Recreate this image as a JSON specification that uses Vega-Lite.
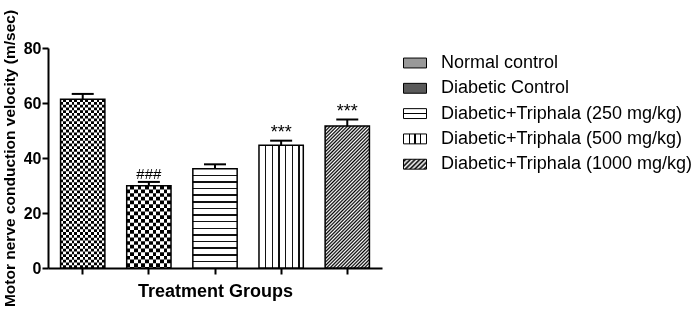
{
  "$schema": "https://vega.github.io/schema/vega-lite/v6.json",
  "width": 334,
  "height": 220,
  "autosize": {"type": "none"},
  "padding": {"left": 48, "top": 48, "right": 310, "bottom": 47},
  "background": "white",
  "config": {"view": {"stroke": null}, "font": "Liberation Sans"},
  "data": {"values": [
    {"group": "Normal control", "id": "nc", "value": 61.4, "upper": 63.3, "sig": ""},
    {"group": "Diabetic Control", "id": "dc", "value": 29.9, "upper": 31.3, "sig": "###"},
    {"group": "Diabetic+Triphala (250 mg/kg)", "id": "t250", "value": 36.1, "upper": 37.7, "sig": ""},
    {"group": "Diabetic+Triphala (500 mg/kg)", "id": "t500", "value": 44.6, "upper": 46.3, "sig": "***"},
    {"group": "Diabetic+Triphala (1000 mg/kg)", "id": "t1000", "value": 51.6, "upper": 54.0, "sig": "***"}
  ]},
  "encoding": {
    "x": {"field": "group", "type": "nominal", "sort": null,
      "scale": {"paddingInner": 0.33, "paddingOuter": 0.19},
      "axis": {"title": "Treatment Groups", "labels": false, "domainColor": "#000", "domainWidth": 2, "tickColor": "#000", "tickWidth": 2, "tickSize": 6, "titleFont": "Liberation Sans", "titleFontSize": 18, "titleFontWeight": "bold", "titleColor": "#000", "titlePadding": 7}},
    "y": {"field": "value", "type": "quantitative",
      "scale": {"domain": [0, 80], "nice": false},
      "axis": {"title": "Motor nerve conduction velocity (m/sec)", "values": [0, 20, 40, 60, 80], "grid": false, "domainColor": "#000", "domainWidth": 2, "tickColor": "#000", "tickWidth": 2, "tickSize": 6, "labelFont": "Liberation Sans", "labelFontSize": 16, "labelFontWeight": "bold", "labelColor": "#000", "labelPadding": 1, "titleFont": "Liberation Sans", "titleFontSize": 15.5, "titleFontWeight": "bold", "titleColor": "#000", "titlePadding": 6}}
  },
  "layer": [
    {
      "mark": {"type": "bar", "strokeWidth": 0},
      "encoding": {
        "fill": {
          "condition": [
            {"test": "datum.id === 't250'", "value": {"gradient": "linear", "x1": 0, "y1": 0, "x2": 0, "y2": 1, "stops": [
              {"offset": 0, "color": "#fff"},
              {"offset": 0.0592, "color": "#fff"}, {"offset": 0.0592, "color": "#111"}, {"offset": 0.0742, "color": "#111"}, {"offset": 0.0742, "color": "#fff"},
              {"offset": 0.1258, "color": "#fff"}, {"offset": 0.1258, "color": "#111"}, {"offset": 0.1408, "color": "#111"}, {"offset": 0.1408, "color": "#fff"},
              {"offset": 0.1925, "color": "#fff"}, {"offset": 0.1925, "color": "#111"}, {"offset": 0.2075, "color": "#111"}, {"offset": 0.2075, "color": "#fff"},
              {"offset": 0.2592, "color": "#fff"}, {"offset": 0.2592, "color": "#111"}, {"offset": 0.2742, "color": "#111"}, {"offset": 0.2742, "color": "#fff"},
              {"offset": 0.3258, "color": "#fff"}, {"offset": 0.3258, "color": "#111"}, {"offset": 0.3408, "color": "#111"}, {"offset": 0.3408, "color": "#fff"},
              {"offset": 0.3925, "color": "#fff"}, {"offset": 0.3925, "color": "#111"}, {"offset": 0.4075, "color": "#111"}, {"offset": 0.4075, "color": "#fff"},
              {"offset": 0.4592, "color": "#fff"}, {"offset": 0.4592, "color": "#111"}, {"offset": 0.4742, "color": "#111"}, {"offset": 0.4742, "color": "#fff"},
              {"offset": 0.5258, "color": "#fff"}, {"offset": 0.5258, "color": "#111"}, {"offset": 0.5408, "color": "#111"}, {"offset": 0.5408, "color": "#fff"},
              {"offset": 0.5925, "color": "#fff"}, {"offset": 0.5925, "color": "#111"}, {"offset": 0.6075, "color": "#111"}, {"offset": 0.6075, "color": "#fff"},
              {"offset": 0.6592, "color": "#fff"}, {"offset": 0.6592, "color": "#111"}, {"offset": 0.6742, "color": "#111"}, {"offset": 0.6742, "color": "#fff"},
              {"offset": 0.7258, "color": "#fff"}, {"offset": 0.7258, "color": "#111"}, {"offset": 0.7408, "color": "#111"}, {"offset": 0.7408, "color": "#fff"},
              {"offset": 0.7925, "color": "#fff"}, {"offset": 0.7925, "color": "#111"}, {"offset": 0.8075, "color": "#111"}, {"offset": 0.8075, "color": "#fff"},
              {"offset": 0.8592, "color": "#fff"}, {"offset": 0.8592, "color": "#111"}, {"offset": 0.8742, "color": "#111"}, {"offset": 0.8742, "color": "#fff"},
              {"offset": 0.9258, "color": "#fff"}, {"offset": 0.9258, "color": "#111"}, {"offset": 0.9408, "color": "#111"}, {"offset": 0.9408, "color": "#fff"},
              {"offset": 1, "color": "#fff"}]}},
            {"test": "datum.id === 't500'", "value": {"gradient": "linear", "x1": 0, "y1": 0, "x2": 1, "y2": 0, "stops": [
              {"offset": 0, "color": "#fff"},
              {"offset": 0.135, "color": "#fff"}, {"offset": 0.135, "color": "#111"}, {"offset": 0.165, "color": "#111"}, {"offset": 0.165, "color": "#fff"},
              {"offset": 0.285, "color": "#fff"}, {"offset": 0.285, "color": "#111"}, {"offset": 0.315, "color": "#111"}, {"offset": 0.315, "color": "#fff"},
              {"offset": 0.435, "color": "#fff"}, {"offset": 0.435, "color": "#111"}, {"offset": 0.465, "color": "#111"}, {"offset": 0.465, "color": "#fff"},
              {"offset": 0.585, "color": "#fff"}, {"offset": 0.585, "color": "#111"}, {"offset": 0.615, "color": "#111"}, {"offset": 0.615, "color": "#fff"},
              {"offset": 0.735, "color": "#fff"}, {"offset": 0.735, "color": "#111"}, {"offset": 0.765, "color": "#111"}, {"offset": 0.765, "color": "#fff"},
              {"offset": 0.885, "color": "#fff"}, {"offset": 0.885, "color": "#111"}, {"offset": 0.915, "color": "#111"}, {"offset": 0.915, "color": "#fff"},
              {"offset": 1, "color": "#fff"}]}},
            {"test": "datum.id === 't1000'", "value": {"gradient": "linear", "x1": 0, "y1": 0, "x2": 0.374, "y2": 1.196, "stops": [
              {"offset":0,"color":"#fff"},{"offset":0.0093,"color":"#000"},{"offset":0.0185,"color":"#fff"},{"offset":0.0278,"color":"#000"},{"offset":0.037,"color":"#fff"},{"offset":0.0463,"color":"#000"},{"offset":0.0556,"color":"#fff"},{"offset":0.0648,"color":"#000"},{"offset":0.0741,"color":"#fff"},{"offset":0.0833,"color":"#000"},{"offset":0.0926,"color":"#fff"},{"offset":0.1019,"color":"#000"},{"offset":0.1111,"color":"#fff"},{"offset":0.1204,"color":"#000"},{"offset":0.1296,"color":"#fff"},{"offset":0.1389,"color":"#000"},{"offset":0.1481,"color":"#fff"},{"offset":0.1574,"color":"#000"},{"offset":0.1667,"color":"#fff"},{"offset":0.1759,"color":"#000"},{"offset":0.1852,"color":"#fff"},{"offset":0.1944,"color":"#000"},{"offset":0.2037,"color":"#fff"},{"offset":0.213,"color":"#000"},{"offset":0.2222,"color":"#fff"},{"offset":0.2315,"color":"#000"},{"offset":0.2407,"color":"#fff"},{"offset":0.25,"color":"#000"},{"offset":0.2593,"color":"#fff"},{"offset":0.2685,"color":"#000"},{"offset":0.2778,"color":"#fff"},{"offset":0.287,"color":"#000"},{"offset":0.2963,"color":"#fff"},{"offset":0.3056,"color":"#000"},{"offset":0.3148,"color":"#fff"},{"offset":0.3241,"color":"#000"},{"offset":0.3333,"color":"#fff"},{"offset":0.3426,"color":"#000"},{"offset":0.3519,"color":"#fff"},{"offset":0.3611,"color":"#000"},{"offset":0.3704,"color":"#fff"},{"offset":0.3796,"color":"#000"},{"offset":0.3889,"color":"#fff"},{"offset":0.3981,"color":"#000"},{"offset":0.4074,"color":"#fff"},{"offset":0.4167,"color":"#000"},{"offset":0.4259,"color":"#fff"},{"offset":0.4352,"color":"#000"},{"offset":0.4444,"color":"#fff"},{"offset":0.4537,"color":"#000"},{"offset":0.463,"color":"#fff"},{"offset":0.4722,"color":"#000"},{"offset":0.4815,"color":"#fff"},{"offset":0.4907,"color":"#000"},{"offset":0.5,"color":"#fff"},{"offset":0.5093,"color":"#000"},{"offset":0.5185,"color":"#fff"},{"offset":0.5278,"color":"#000"},{"offset":0.537,"color":"#fff"},{"offset":0.5463,"color":"#000"},{"offset":0.5556,"color":"#fff"},{"offset":0.5648,"color":"#000"},{"offset":0.5741,"color":"#fff"},{"offset":0.5833,"color":"#000"},{"offset":0.5926,"color":"#fff"},{"offset":0.6019,"color":"#000"},{"offset":0.6111,"color":"#fff"},{"offset":0.6204,"color":"#000"},{"offset":0.6296,"color":"#fff"},{"offset":0.6389,"color":"#000"},{"offset":0.6481,"color":"#fff"},{"offset":0.6574,"color":"#000"},{"offset":0.6667,"color":"#fff"},{"offset":0.6759,"color":"#000"},{"offset":0.6852,"color":"#fff"},{"offset":0.6944,"color":"#000"},{"offset":0.7037,"color":"#fff"},{"offset":0.713,"color":"#000"},{"offset":0.7222,"color":"#fff"},{"offset":0.7315,"color":"#000"},{"offset":0.7407,"color":"#fff"},{"offset":0.75,"color":"#000"},{"offset":0.7593,"color":"#fff"},{"offset":0.7685,"color":"#000"},{"offset":0.7778,"color":"#fff"},{"offset":0.787,"color":"#000"},{"offset":0.7963,"color":"#fff"},{"offset":0.8056,"color":"#000"},{"offset":0.8148,"color":"#fff"},{"offset":0.8241,"color":"#000"},{"offset":0.8333,"color":"#fff"},{"offset":0.8426,"color":"#000"},{"offset":0.8519,"color":"#fff"},{"offset":0.8611,"color":"#000"},{"offset":0.8704,"color":"#fff"},{"offset":0.8796,"color":"#000"},{"offset":0.8889,"color":"#fff"},{"offset":0.8981,"color":"#000"},{"offset":0.9074,"color":"#fff"},{"offset":0.9167,"color":"#000"},{"offset":0.9259,"color":"#fff"},{"offset":0.9352,"color":"#000"},{"offset":0.9444,"color":"#fff"},{"offset":0.9537,"color":"#000"},{"offset":0.963,"color":"#fff"},{"offset":0.9722,"color":"#000"},{"offset":0.9815,"color":"#fff"},{"offset":0.9907,"color":"#000"},{"offset":1,"color":"#fff"}]}}
          ],
          "value": "#fff"
        }
      }
    },
    {
      "transform": [{"filter": "datum.id === 'nc' || datum.id === 'dc'"}],
      "mark": {"type": "rule", "strokeWidth": 44.25, "color": "#000", "strokeCap": "butt"},
      "encoding": {
        "y2": {"datum": 0},
        "strokeDash": {"condition": {"test": "datum.id === 'nc'", "value": [2.77, 2.77]}, "value": [3.69, 3.69]}
      }
    },
    {
      "transform": [{"filter": "datum.id === 'nc' || datum.id === 'dc'"}],
      "mark": {"type": "bar", "blend": "difference", "strokeWidth": 0},
      "encoding": {
        "fill": {
          "condition": {"test": "datum.id === 'nc'", "value": {"gradient": "linear", "x1": 0, "y1": 0, "x2": 1, "y2": 0, "stops": [
            {"offset":0,"color":"#fff"},{"offset":0.0625,"color":"#fff"},{"offset":0.0625,"color":"#000"},{"offset":0.125,"color":"#000"},{"offset":0.125,"color":"#fff"},{"offset":0.1875,"color":"#fff"},{"offset":0.1875,"color":"#000"},{"offset":0.25,"color":"#000"},{"offset":0.25,"color":"#fff"},{"offset":0.3125,"color":"#fff"},{"offset":0.3125,"color":"#000"},{"offset":0.375,"color":"#000"},{"offset":0.375,"color":"#fff"},{"offset":0.4375,"color":"#fff"},{"offset":0.4375,"color":"#000"},{"offset":0.5,"color":"#000"},{"offset":0.5,"color":"#fff"},{"offset":0.5625,"color":"#fff"},{"offset":0.5625,"color":"#000"},{"offset":0.625,"color":"#000"},{"offset":0.625,"color":"#fff"},{"offset":0.6875,"color":"#fff"},{"offset":0.6875,"color":"#000"},{"offset":0.75,"color":"#000"},{"offset":0.75,"color":"#fff"},{"offset":0.8125,"color":"#fff"},{"offset":0.8125,"color":"#000"},{"offset":0.875,"color":"#000"},{"offset":0.875,"color":"#fff"},{"offset":0.9375,"color":"#fff"},{"offset":0.9375,"color":"#000"},{"offset":1,"color":"#000"}]}},
          "value": {"gradient": "linear", "x1": 0, "y1": 0, "x2": 1, "y2": 0, "stops": [
            {"offset":0,"color":"#fff"},{"offset":0.0833,"color":"#fff"},{"offset":0.0833,"color":"#000"},{"offset":0.1667,"color":"#000"},{"offset":0.1667,"color":"#fff"},{"offset":0.25,"color":"#fff"},{"offset":0.25,"color":"#000"},{"offset":0.3333,"color":"#000"},{"offset":0.3333,"color":"#fff"},{"offset":0.4167,"color":"#fff"},{"offset":0.4167,"color":"#000"},{"offset":0.5,"color":"#000"},{"offset":0.5,"color":"#fff"},{"offset":0.5833,"color":"#fff"},{"offset":0.5833,"color":"#000"},{"offset":0.6667,"color":"#000"},{"offset":0.6667,"color":"#fff"},{"offset":0.75,"color":"#fff"},{"offset":0.75,"color":"#000"},{"offset":0.8333,"color":"#000"},{"offset":0.8333,"color":"#fff"},{"offset":0.9167,"color":"#fff"},{"offset":0.9167,"color":"#000"},{"offset":1,"color":"#000"}]}
        }
      }
    },
    {
      "mark": {"type": "bar", "fillOpacity": 0, "stroke": "#000", "strokeWidth": 1.5}
    },
    {
      "mark": {"type": "rule", "strokeWidth": 2, "color": "#000"},
      "encoding": {"y2": {"field": "upper"}}
    },
    {
      "mark": {"type": "tick", "size": 22, "thickness": 2, "color": "#000", "opacity": 1},
      "encoding": {"y": {"field": "upper", "type": "quantitative"}}
    },
    {
      "transform": [{"filter": "datum.sig === '###'"}],
      "mark": {"type": "text", "baseline": "alphabetic", "dy": -3, "font": "Liberation Sans", "fontSize": 15, "color": "#000"},
      "encoding": {
        "y": {"field": "upper", "type": "quantitative"},
        "text": {"field": "sig"}
      }
    },
    {
      "transform": [{"filter": "datum.sig === '***'"}],
      "mark": {"type": "text", "baseline": "alphabetic", "dy": -3, "font": "Liberation Sans", "fontSize": 18, "color": "#000"},
      "encoding": {
        "y": {"field": "upper", "type": "quantitative"},
        "text": {"field": "sig"}
      }
    },
    {
      "transform": [{"filter": "false"}],
      "mark": {"type": "bar"},
      "encoding": {
        "color": {"field": "group", "type": "nominal",
          "scale": {
            "domain": ["Normal control", "Diabetic Control", "Diabetic+Triphala (250 mg/kg)", "Diabetic+Triphala (500 mg/kg)", "Diabetic+Triphala (1000 mg/kg)"],
            "range": [
              "#999999",
              "#5a5a5a",
              {"expr": "{gradient:'linear',x1:0,y1:0,x2:0,y2:1,stops:[{offset:0,color:'#fff'},{offset:0.44,color:'#fff'},{offset:0.44,color:'#000'},{offset:0.56,color:'#000'},{offset:0.56,color:'#fff'},{offset:1,color:'#fff'}]}"},
              {"expr": "{gradient:'linear',x1:0,y1:0,x2:1,y2:0,stops:[{offset:0,color:'#fff'},{offset:0.228,color:'#fff'},{offset:0.228,color:'#000'},{offset:0.272,color:'#000'},{offset:0.272,color:'#fff'},{offset:0.478,color:'#fff'},{offset:0.478,color:'#000'},{offset:0.522,color:'#000'},{offset:0.522,color:'#fff'},{offset:0.728,color:'#fff'},{offset:0.728,color:'#000'},{offset:0.772,color:'#000'},{offset:0.772,color:'#fff'},{offset:1,color:'#fff'}]}"},
              {"expr": "{gradient:'linear',x1:0,y1:0,x2:1.207,y2:0.525,stops:[{offset:0,color:'#fff'},{offset:0.0714,color:'#000'},{offset:0.1429,color:'#fff'},{offset:0.2143,color:'#000'},{offset:0.2857,color:'#fff'},{offset:0.3571,color:'#000'},{offset:0.4286,color:'#fff'},{offset:0.5,color:'#000'},{offset:0.5714,color:'#fff'},{offset:0.6429,color:'#000'},{offset:0.7143,color:'#fff'},{offset:0.7857,color:'#000'},{offset:0.8571,color:'#fff'},{offset:0.9286,color:'#000'},{offset:1,color:'#fff'}]}"}
            ]
          },
          "legend": {"orient": "none", "legendX": 355, "legendY": 3, "direction": "vertical", "title": null, "symbolType": "M-1,-0.43H1V0.43H-1Z", "symbolSize": 529, "symbolStrokeColor": "#000", "symbolStrokeWidth": 1, "symbolOpacity": 1, "labelFont": "Liberation Sans", "labelFontSize": 18, "labelColor": "#000", "labelOffset": 14, "labelLimit": 400, "rowPadding": 4.3, "padding": 0}
        }
      }
    }
  ]
}
